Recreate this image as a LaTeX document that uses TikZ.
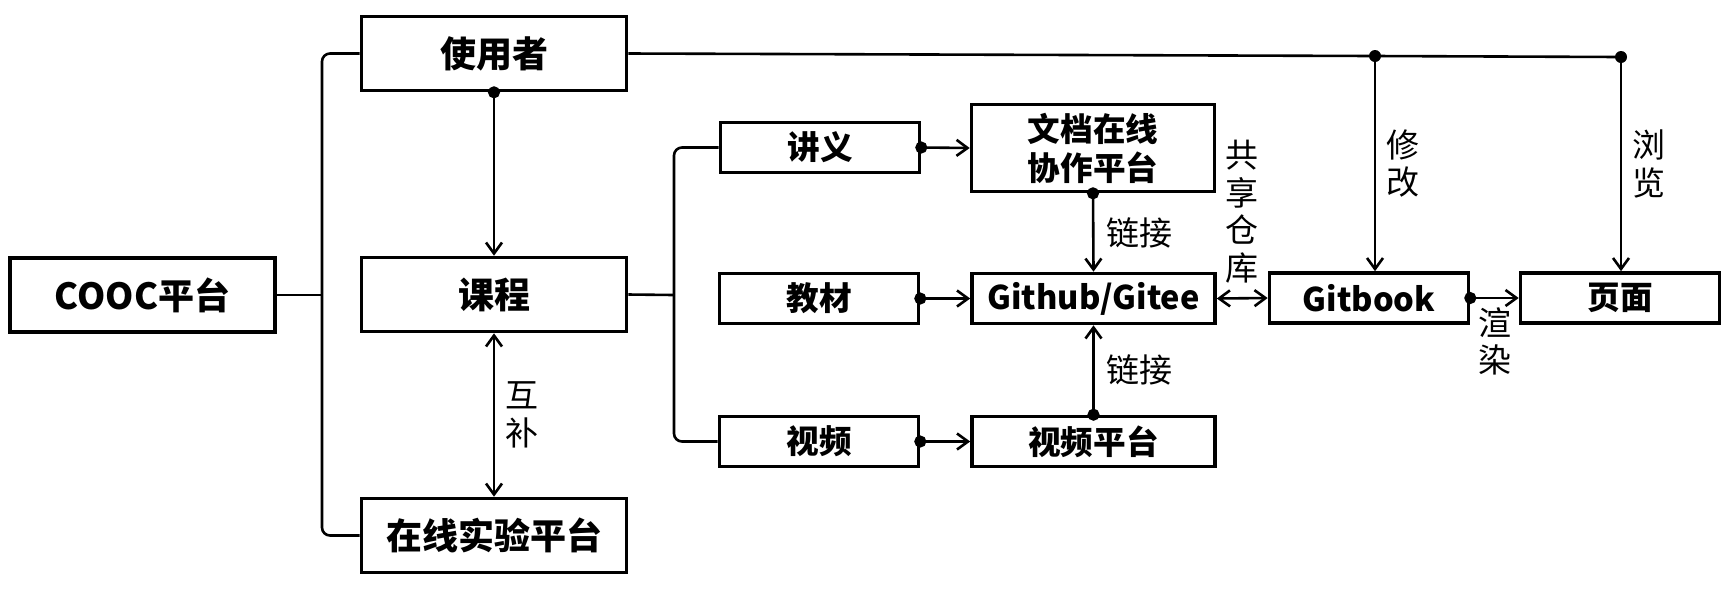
\documentclass[tikz,border=0pt]{standalone}
\usepackage{fontspec}
\setmainfont{Noto Sans CJK SC}
\usetikzlibrary{arrows.meta}
\tikzstyle{bigbox}=[draw, line width=1.8pt, minimum width=132.5pt, minimum height=37pt, font=\bfseries\fontsize{18}{21}\selectfont]
\tikzstyle{smallbox}=[draw, line width=1.8pt, minimum width=99.5pt, minimum height=25pt, align=center, font=\bfseries\fontsize{16.3}{19.5}\selectfont]
\tikzstyle{midbox}=[smallbox, minimum width=121.5pt]
\tikzstyle{conn}=[line width=1.3pt]
\tikzstyle{flow}=[conn, -{Straight Barb[length=5.5pt,width=8pt]}]
\tikzstyle{dflow}=[conn, {Circle[length=6pt]}-{Straight Barb[length=5.5pt,width=8pt]}, shorten <=-3pt]
\tikzstyle{both}=[conn, {Straight Barb[length=5.5pt,width=8pt]}-{Straight Barb[length=5.5pt,width=8pt]}]
\tikzstyle{lbl}=[font=\fontsize{16.5}{18.75}\selectfont, align=center, inner sep=1pt]

\begin{document}
\begin{tikzpicture}[x=0.5pt, y=-0.5pt]
\useasboundingbox (0,0) rectangle (1728,591);

\node[bigbox] (cooc) at (142.5,295) {COOC平台};
\node[bigbox] (user) at (494,53.5) {使用者};
\node[bigbox] (course) at (494,294.5) {课程};
\node[bigbox] (lab) at (494,535.5) {在线实验平台};

\node[smallbox] (notes) at (820,147.5) {讲义};
\node[smallbox] (book) at (819,298.5) {教材};
\node[smallbox] (video) at (819,441.5) {视频};

\node[midbox, minimum height=43.5pt] (doc) at (1093,148) {文档在线\\协作平台};
\node[midbox] (git) at (1093.5,298.5) {Github/Gitee};
\node[midbox] (vplat) at (1093.5,441.5) {视频平台};

\node[smallbox] (gitbook) at (1369,298) {Gitbook};
\node[smallbox] (page) at (1620,298) {页面};

\coordinate (b1) at (322,295);
\coordinate (b2) at (674,295);
\coordinate (j1) at (1375,56);
\coordinate (j2) at (1621,57);

\draw[conn] (cooc.east) -- (b1);
\draw[conn, rounded corners=4pt] (user.west) -| (b1) |- (lab.west);
\draw[conn] (course.east) -- (b2);
\draw[conn, rounded corners=4pt] (notes.west) -| (b2) |- (video.west);

\draw[dflow] (user.south) -- (course.north);
\draw[both] (course.south) -- (lab.north) node[midway, right=4pt, lbl] {互\\补};

\draw[dflow] (notes.east) -- (doc.west);
\draw[dflow] (book.east) -- (git.west);
\draw[dflow] (video.east) -- (vplat.west);
\draw[dflow] (doc.south) -- (git.north) node[midway, right=5pt, lbl] {链接};
\draw[dflow] (vplat.north) -- (git.south) node[midway, right=5pt, lbl] {链接};
\draw[both] (git.east) -- (gitbook.west) node[midway, above=6pt, lbl] {共\\享\\仓\\库};
\draw[dflow] (gitbook.east) -- (page.west) node[midway, below=3pt, lbl] {渲\\染};

\draw[conn] (user.east) -- (j1) -- (j2);
\fill (j1) circle (3pt);
\fill (j2) circle (3pt);
\draw[flow] (j1) -- (j1 |- gitbook.north) node[midway, right=4pt, lbl] {修\\改};
\draw[flow] (j2) -- (j2 |- page.north) node[midway, right=4pt, lbl] {浏\\览};

\end{tikzpicture}
\end{document}
